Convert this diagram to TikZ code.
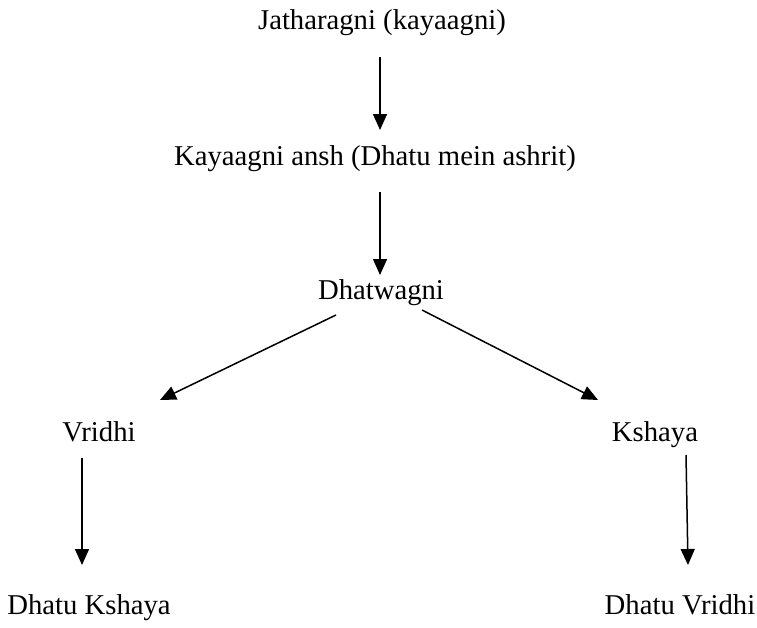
\documentclass[tikz,border=0pt]{standalone}
\usepackage{fontspec}
\setmainfont{Liberation Serif}
\usetikzlibrary{arrows.meta,calc}
\begin{document}
\begin{tikzpicture}[x=1pt,y=-1pt,
  lbl/.style={inner sep=0pt, anchor=base, font=\fontsize{28.7}{34}\selectfont},
  arr/.style={line width=1.5pt, -{Triangle[length=16pt,width=14pt]}}]
\useasboundingbox (0,0) rectangle (757,627);
\node[lbl] (t1) at (382,29) {Jatharagni (kayaagni)};
\node[lbl] (t2) at (375,165) {Kayaagni ansh (Dhatu mein ashrit)};
\node[lbl] (t3) at (381,299) {Dhatwagni};
\node[lbl] (t4) at (99,441) {Vridhi};
\node[lbl] (t5) at (655,441) {Kshaya};
\node[lbl] (t6) at (89,614) {Dhatu Kshaya};
\node[lbl] (t7) at (680,614) {Dhatu Vridhi};
\draw[arr] ($(t1.base)+(-2,28)$) -- ($(t2.base)+(5,-35)$);
\draw[arr] ($(t2.base)+(5,27)$) -- ($(t3.base)+(-1,-24)$);
\draw[arr] ($(t3.base)+(-45,16)$) -- ($(t4.base)+(61,-41)$);
\draw[arr] ($(t3.base)+(41,11)$) -- ($(t5.base)+(-57,-41)$);
\draw[arr] ($(t4.base)+(-17,17)$) -- ($(t6.base)+(-7,-49)$);
\draw[arr] ($(t5.base)+(31,14)$) -- ($(t7.base)+(8,-49)$);
\end{tikzpicture}
\end{document}
